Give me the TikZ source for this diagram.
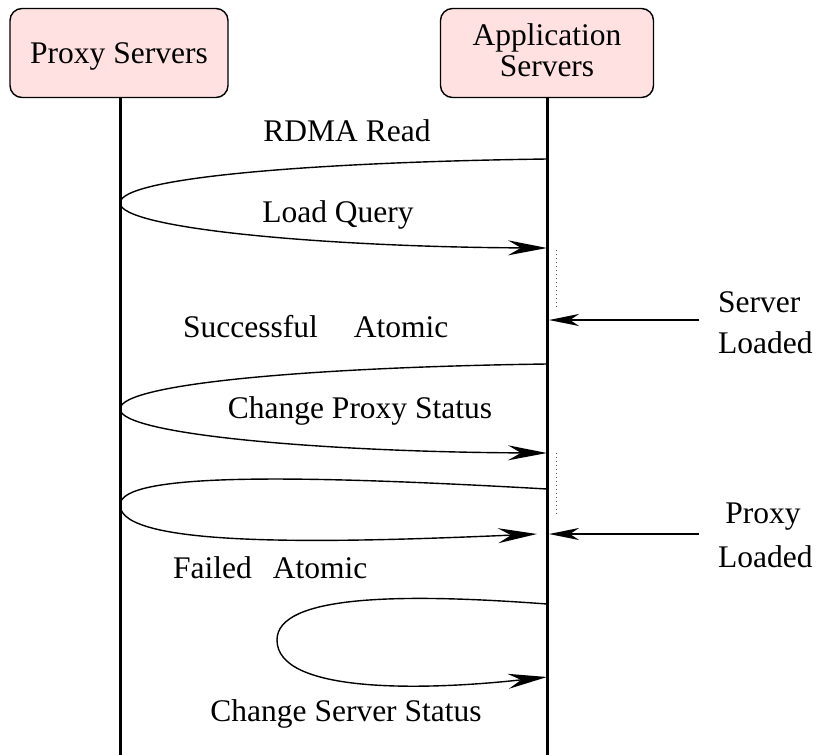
\documentclass[tikz,border=0pt]{standalone}
\usepackage{fontspec}
\setmainfont{Liberation Serif}
\usetikzlibrary{arrows.meta}
\definecolor{boxpink}{RGB}{255,225,225}
\begin{document}
\begin{tikzpicture}[x=1pt,y=-1pt,
  font=\fontsize{31.5}{31}\selectfont,
  actor/.style={draw=black,line width=1.4pt,fill=boxpink,rounded corners=12pt,
    minimum height=89pt,align=center,inner sep=0pt},
  lifeline/.style={line width=3pt},
  msg/.style={line width=1.4pt,-{Stealth[length=39pt,width=15pt,inset=13pt]}},
  plainmsg/.style={line width=1.4pt},
  note/.style={line width=1.4pt,-{Stealth[length=30pt,width=12pt,inset=9pt]}},
  gap/.style={line width=0.8pt,black!70,dash pattern=on 0.8pt off 3.2pt},
  lbl/.style={inner sep=0pt,anchor=base},
  lblw/.style={inner sep=0pt,anchor=base west}]
\useasboundingbox (0,0) rectangle (817,755);

% actors
\node[actor,minimum width=218pt] (proxy) at (119,53) {\raisebox{-3pt}[\height][\depth]{Proxy Servers}};
\node[actor,minimum width=213pt] (app) at (547,53) {\raisebox{-2pt}[\height][\depth]{\begin{tabular}{@{}c@{}}Application\\Servers\end{tabular}}};

% lifelines
\coordinate (pb) at (120,755);
\coordinate (ab) at (547,755);
\draw[lifeline] (proxy.south -| pb) -- (pb);
\draw[lifeline] (app.south) -- (ab);

% coordinates on lifelines
\coordinate (a1) at (547,159);
\coordinate (p1) at (120,203);
\coordinate (a2) at (547,248);
\coordinate (a3) at (547,364);
\coordinate (p3) at (120,409);
\coordinate (a4) at (547,453);
\coordinate (a5) at (547,489);
\coordinate (p5) at (120,505);
\coordinate (a6) at (537,534);
\coordinate (a7) at (547,604);
\coordinate (m7) at (277,640);
\coordinate (a8) at (547,677);

% RDMA read / load query loop
\draw[plainmsg] (a1) .. controls (320,162) and (120,177) .. (p1);
\draw[msg] (p1) .. controls (120,229) and (330,247) .. (a2);

% successful atomic / change proxy status
\draw[plainmsg] (a3) .. controls (320,367) and (120,383) .. (p3);
\draw[msg] (p3) .. controls (120,435) and (330,452) .. (a4);

% proxy loaded loop
\draw[plainmsg] (a5) .. controls (300,475) and (120,472) .. (p5);
\draw[msg] (p5) .. controls (120,548) and (330,543) .. (a6);

% failed atomic / change server status
\draw[plainmsg] (a7) .. controls (400,593) and (277,595) .. (m7);
\draw[msg] (m7) .. controls (277,693) and (420,691) .. (a8);

% dotted gaps
\coordinate (g1a) at (556,250);
\coordinate (g1b) at (556,310);
\coordinate (g2a) at (556,453);
\coordinate (g2b) at (556,515);
\draw[gap] (g1a) -- (g1b);
\draw[gap] (g2a) -- (g2b);

% external notes
\coordinate (s0) at (699,320);
\coordinate (s1) at (549,320);
\coordinate (q0) at (699,534);
\coordinate (q1) at (549,534);
\draw[note] (s0) -- (s1);
\draw[note] (q0) -- (q1);

% labels
\node[lbl] (t1) at (347,141) {RDMA Read};
\node[lbl] (t2) at (338,222) {Load Query};
\node[lblw] (t3) at (183,337) {Successful\hspace{36pt}Atomic};
\node[lbl] (t4) at (360,418) {Change Proxy Status};
\node[lblw] (t5) at (173,578) {Failed\hspace{21pt}Atomic};
\node[lbl] (t6) at (346,721) {Change Server Status};
\node[lblw] (n1) at (718,312) {Server};
\node[lblw] (n2) at (718,353) {Loaded};
\node[lbl] (n3) at (763,523) {Proxy};
\node[lblw] (n4) at (718,567) {Loaded};
\end{tikzpicture}
\end{document}
